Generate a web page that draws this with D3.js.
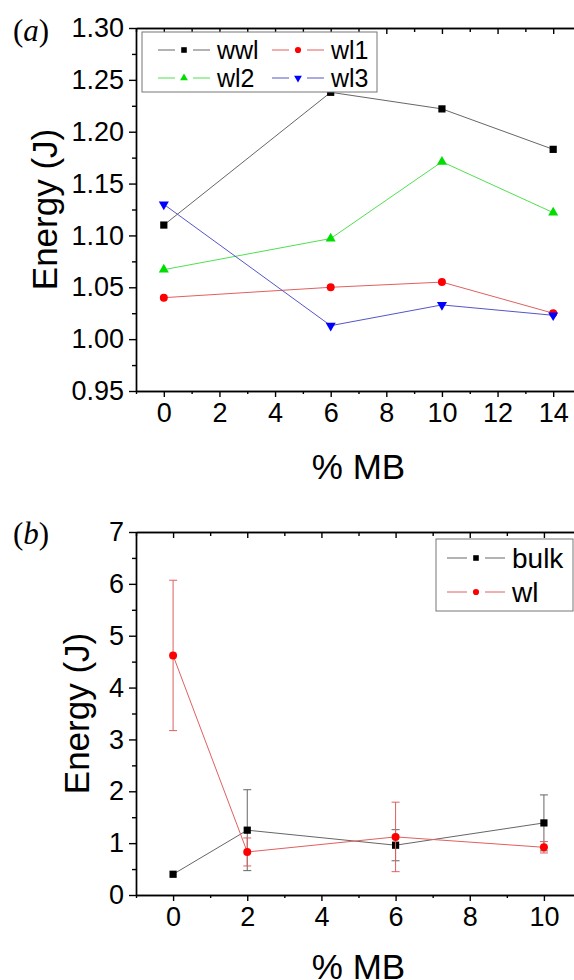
<!DOCTYPE html>
<meta charset="utf-8">
<script src="https://d3js.org/d3.v7.min.js"></script>
<style>
  body { margin: 0; background: #fff; }
  svg { font-family: "Liberation Sans", Arial, sans-serif; }
  .axis path, .axis line { stroke: #000; stroke-width: 1.4px; }
  .axis text { font-size: 27px; fill: #000; font-family: "Liberation Sans", Arial, sans-serif; }
</style>
<svg id="chart" width="574" height="980"></svg>
<script>
// panel (a)
const pctA = [0, 6, 10, 14];
const wwl = [1.110, 1.238, 1.222, 1.183];
const wl1 = [1.040, 1.050, 1.055, 1.025];
const wl2 = [1.067, 1.097, 1.171, 1.122];
const wl3 = [1.130, 1.013, 1.033, 1.023];
const ticksAx = [0, 2, 4, 6, 8, 10, 12, 14];
const ticksAy = [0.95, 1.00, 1.05, 1.10, 1.15, 1.20, 1.25, 1.30];

// panel (b)
const pctB = [0, 2, 6, 10];
const bulk = [0.40, 1.25, 0.96, 1.39];
const bulkErr = [0, 0.78, 0.30, 0.54];
const wl = [4.62, 0.83, 1.12, 0.92];
const wlErr = [1.45, 0.27, 0.67, 0.11];
const ticksBx = [0, 2, 4, 6, 8, 10];
const ticksBy = [0, 1, 2, 3, 4, 5, 6, 7];

const svg = d3.select("#chart");
const left = 136, right = 581;

function marker(g, shape, color, x, y, scale) {
  const sym = shape === "square" ? d3.symbol().type(d3.symbolSquare).size(52 * scale)
            : shape === "circle" ? d3.symbol().type(d3.symbolCircle).size(50 * scale)
            : d3.symbol().type(d3.symbolTriangle).size(44 * scale);
  g.append("path")
    .attr("d", sym())
    .attr("transform", `translate(${x},${y})` + (shape === "down" ? " rotate(180)" : ""))
    .attr("fill", color);
}

function panel(cfg) {
  const x = d3.scaleLinear().domain(cfg.xdom).range([left, right]);
  const y = d3.scaleLinear().domain(cfg.ydom).range([cfg.bottom, cfg.top]);
  const g = svg.append("g");

  // minor ticks
  const xminor = d3.range(cfg.xdom[0], cfg.xdom[1] + 0.001, 1).filter(v => !cfg.xt.includes(v));
  const yminor = cfg.yt.slice(0, -1).map((v, i) => (v + cfg.yt[i + 1]) / 2);

  g.append("g").attr("class", "axis").attr("transform", `translate(0,${cfg.bottom})`)
    .call(d3.axisBottom(x).tickValues(xminor).tickSize(3).tickSizeOuter(0).tickFormat(""));
  const xa = g.append("g").attr("class", "axis").attr("transform", `translate(0,${cfg.bottom})`)
    .call(d3.axisBottom(x).tickValues(cfg.xt).tickSize(6).tickSizeOuter(0));
  xa.selectAll("text").attr("dy", null).attr("y", 12).attr("dominant-baseline", "hanging");
  g.append("g").attr("class", "axis").attr("transform", `translate(${left},0)`)
    .call(d3.axisLeft(y).tickValues(yminor).tickSize(4).tickSizeOuter(0).tickFormat(""));
  g.append("g").attr("class", "axis").attr("transform", `translate(${left},0)`)
    .call(d3.axisLeft(y).tickValues(cfg.yt).tickSize(7).tickSizeOuter(0).tickPadding(5)
      .tickFormat(d3.format(cfg.yfmt)));
  // top border with inward ticks
  g.append("g").attr("class", "axis").attr("transform", `translate(0,${cfg.top})`)
    .call(d3.axisTop(x).tickValues(xminor).tickSize(-4).tickSizeOuter(0).tickFormat(""));
  g.append("g").attr("class", "axis").attr("transform", `translate(0,${cfg.top})`)
    .call(d3.axisTop(x).tickValues(cfg.xt).tickSize(-6).tickSizeOuter(0).tickFormat(""));
  g.append("g").attr("class", "axis").attr("transform", `translate(${right},0)`)
    .call(d3.axisRight(y).tickValues([]).tickSizeOuter(0));

  // axis titles
  g.append("text").attr("x", (left + right) / 2).attr("y", cfg.bottom + cfg.titleDy)
    .attr("text-anchor", "middle").attr("font-size", 35).text("% MB");
  g.append("text").attr("transform", `translate(${cfg.titleX},${(cfg.top + cfg.bottom) / 2}) rotate(-90)`)
    .attr("text-anchor", "middle").attr("font-size", 35).text("Energy (J)");
  const lab = g.append("text").attr("x", 13).attr("y", cfg.top + cfg.labDy)
    .attr("font-family", "'Liberation Serif', 'DejaVu Serif', serif").attr("font-size", 31);
  lab.append("tspan").text("(");
  lab.append("tspan").attr("font-style", "italic").text(cfg.letter);
  lab.append("tspan").text(")");

  // series
  const line = d3.line().x(d => x(d[0])).y(d => y(d[1]));
  cfg.series.forEach(s => {
    const pts = s.xs.map((v, i) => [v, s.ys[i]]);
    if (s.err) {
      pts.forEach((p, i) => {
        const e = s.err[i];
        if (!e) return;
        const px = x(p[0]);
        g.append("line").attr("x1", px).attr("x2", px).attr("y1", y(p[1] - e)).attr("y2", y(p[1] + e))
          .attr("stroke", s.lc).attr("stroke-width", 1);
        [p[1] - e, p[1] + e].forEach(v => g.append("line").attr("x1", px - 4).attr("x2", px + 4)
          .attr("y1", y(v)).attr("y2", y(v)).attr("stroke", s.lc).attr("stroke-width", 1));
      });
    }
    g.append("path").attr("d", line(pts)).attr("fill", "none").attr("stroke", s.lc).attr("stroke-width", 1);
    pts.forEach(p => marker(g, s.shape, s.color, x(p[0]), y(p[1]), 1));
  });

  // legend
  const L = cfg.legend;
  g.append("rect").attr("x", L.x).attr("y", L.y).attr("width", L.w).attr("height", L.h)
    .attr("fill", "#fff").attr("stroke", "#777").attr("stroke-width", 1);
  cfg.series.forEach((s, i) => {
    const col = L.cols ? i % 2 : 0, row = L.cols ? Math.floor(i / 2) : i;
    const ex = L.x + L.pad + col * (L.colW || 0), ey = L.y + L.row0 + row * L.rowH;
    g.append("line").attr("x1", ex).attr("x2", ex + L.seg).attr("y1", ey).attr("y2", ey).attr("stroke", s.lc);
    g.append("line").attr("x1", ex + L.seg + 18).attr("x2", ex + 2 * L.seg + 18).attr("y1", ey).attr("y2", ey).attr("stroke", s.lc);
    marker(g, s.shape, s.color, ex + L.seg + 9, ey, 0.6);
    g.append("text").attr("x", ex + 2 * L.seg + 25).attr("y", ey).attr("dominant-baseline", "central")
      .attr("font-size", L.fs).text(s.name);
  });
}

panel({
  xdom: [-1, 15], ydom: [0.95, 1.30], top: 28, bottom: 391,
  xt: ticksAx, yt: ticksAy, yfmt: ".2f", titleX: 57, letter: "a", labDy: 13, titleDy: 88,
  series: [
    { name: "wwl", xs: pctA, ys: wwl, shape: "square", color: "#000", lc: "#666" },
    { name: "wl1", xs: pctA, ys: wl1, shape: "circle", color: "#f00", lc: "#e06060" },
    { name: "wl2", xs: pctA, ys: wl2, shape: "up", color: "#0d0", lc: "#50e050" },
    { name: "wl3", xs: pctA, ys: wl3, shape: "down", color: "#00f", lc: "#5555c8" }
  ],
  legend: { x: 142, y: 32, w: 235, h: 60, cols: true, colW: 114, pad: 16, seg: 17, row0: 18, rowH: 28, fs: 25 }
});

panel({
  xdom: [-1, 11], ydom: [0, 7], top: 532, bottom: 895,
  xt: ticksBx, yt: ticksBy, yfmt: "d", titleX: 89, letter: "b", labDy: 12, titleDy: 84,
  series: [
    { name: "bulk", xs: pctB, ys: bulk, err: bulkErr, shape: "square", color: "#000", lc: "#666" },
    { name: "wl", xs: pctB, ys: wl, err: wlErr, shape: "circle", color: "#f00", lc: "#e06060" }
  ],
  legend: { x: 436, y: 539, w: 137, h: 72, cols: false, pad: 11, seg: 20, row0: 19, rowH: 34, fs: 28 }
});
</script>
